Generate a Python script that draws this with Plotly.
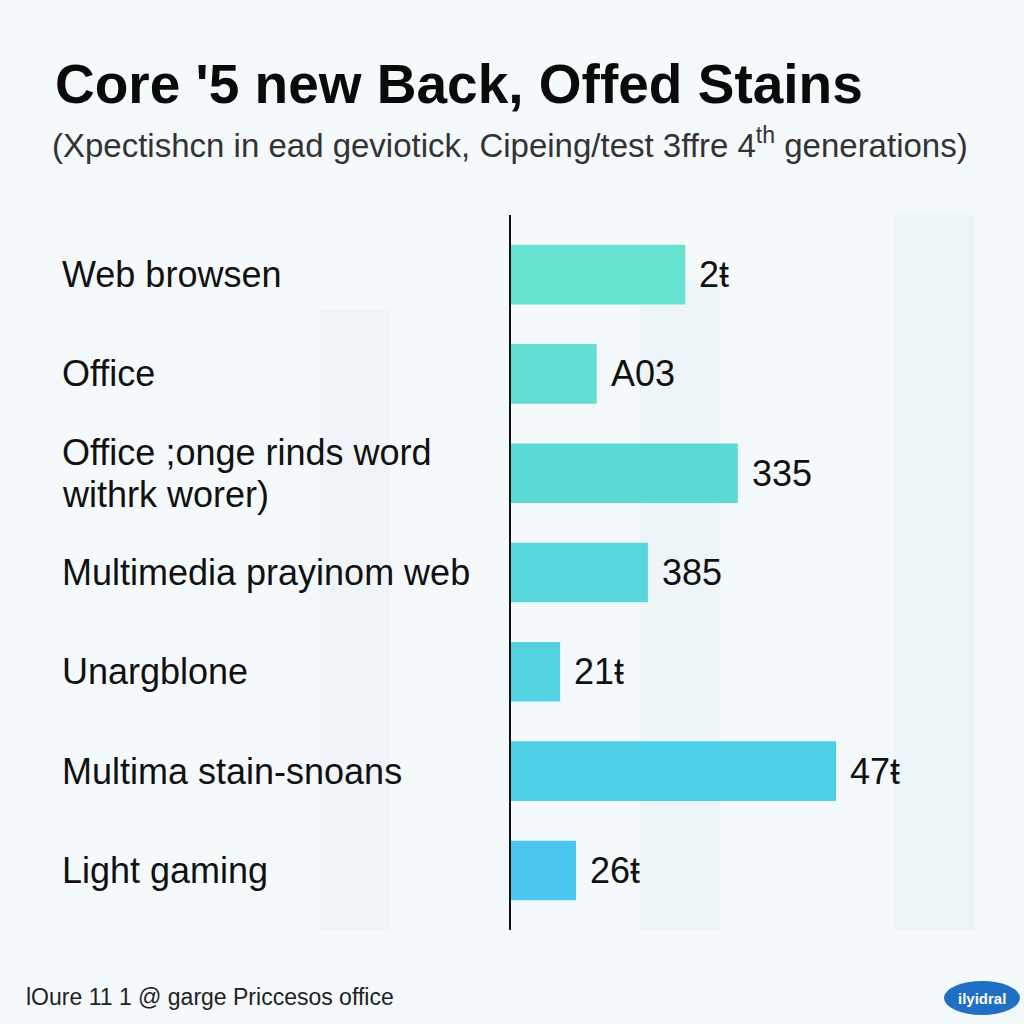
import plotly.graph_objects as go

categories = [
    "Web browsen",
    "Office",
    "Office ;onge rinds word<br>withrk worer)",
    "Multimedia prayinom web",
    "Unargblone",
    "Multima stain-snoans",
    "Light gaming",
]
values = [25.2, 12.4, 32.8, 19.8, 7.1, 47.0, 9.4]
value_labels = ["2ŧ", "A03", "335", "385", "21ŧ", "47ŧ", "26ŧ"]
bar_colors = ["#66E2D0", "#62DED3", "#5CDAD8", "#57D6DD", "#53D3E1", "#4ECFE8", "#4CC6EF"]

W = H = 1024
x_dom = [511 / W, 1000 / W]
y_dom = [(H - 930) / H, (H - 215) / H]
px_per_unit = 325 / 47.0
x_max = (1000 - 511) / px_per_unit

FONT = "Liberation Sans, Arial, sans-serif"

fig = go.Figure()
fig.add_trace(go.Bar(
    y=list(range(len(categories))),
    x=values,
    orientation="h",
    width=0.6,
    marker=dict(color=bar_colors, line=dict(width=0)),
    hoverinfo="skip",
))

annotations = []
for i, (c, v, lab) in enumerate(zip(categories, values, value_labels)):
    lines = c.split("<br>")
    n = len(lines)
    for k, line in enumerate(lines):
        offset = (k - (n - 1) / 2) * 0.42
        annotations.append(dict(
            x=60 / W, xref="paper", y=i + offset, yref="y", text=line, showarrow=False,
            xanchor="left", yanchor="middle", align="left",
            font=dict(family=FONT, size=36, color="#111111"),
        ))
    annotations.append(dict(
        x=v, xref="x", y=i, yref="y", text=lab, showarrow=False,
        xanchor="left", yanchor="middle", xshift=12,
        font=dict(family=FONT, size=36, color="#111111"),
    ))

annotations += [
    dict(x=53 / W, y=1 - 84 / H, xref="paper", yref="paper", xanchor="left", yanchor="middle",
         text="<b>Core '5 new Back, Offed Stains</b>", showarrow=False,
         font=dict(family=FONT, size=55, color="#0a0a0a")),
    dict(x=50 / W, y=1 - 143 / H, xref="paper", yref="paper", xanchor="left", yanchor="middle",
         text="(Xpectishcn in ead geviotick, Cipeing/test 3ffre 4<sup>th</sup> generations)", showarrow=False,
         font=dict(family=FONT, size=33, color="#333333")),
    dict(x=24 / W, y=1 - 997 / H, xref="paper", yref="paper", xanchor="left", yanchor="middle",
         text="lOure 11 1 @ garge Priccesos office", showarrow=False,
         font=dict(family=FONT, size=23, color="#222222")),
    dict(x=982 / W, y=1 - 998 / H, xref="paper", yref="paper", xanchor="center", yanchor="middle",
         text="<b>ilyidral</b>", showarrow=False,
         font=dict(family=FONT, size=15, color="#ffffff")),
]

shapes = [
    dict(type="circle", xref="paper", yref="paper",
         x0=944 / W, x1=1020 / W, y0=1 - 1015 / H, y1=1 - 981 / H,
         fillcolor="#1F6FC4", line=dict(width=0), layer="below"),
    # faint watermark blocks
    dict(type="rect", xref="paper", yref="paper", x0=320 / W, x1=390 / W, y0=1 - 930 / H, y1=1 - 310 / H,
         fillcolor="rgba(225,236,242,0.35)", line=dict(width=0), layer="below"),
    dict(type="rect", xref="paper", yref="paper", x0=640 / W, x1=720 / W, y0=1 - 930 / H, y1=1 - 280 / H,
         fillcolor="rgba(225,236,242,0.3)", line=dict(width=0), layer="below"),
    dict(type="rect", xref="paper", yref="paper", x0=895 / W, x1=975 / W, y0=1 - 930 / H, y1=1 - 215 / H,
         fillcolor="rgba(225,236,242,0.3)", line=dict(width=0), layer="below"),
]

fig.update_layout(
    width=W, height=H,
    margin=dict(l=0, r=0, t=0, b=0),
    paper_bgcolor="#F4F9FB",
    plot_bgcolor="rgba(0,0,0,0)",
    showlegend=False,
    bargap=0.4,
    xaxis=dict(domain=x_dom, range=[0, x_max], showgrid=False, zeroline=False,
               showticklabels=False, showline=False, fixedrange=True),
    yaxis=dict(domain=y_dom, range=[6.6, -0.6], showgrid=False, zeroline=False,
               showticklabels=False, showline=True, linecolor="#111111", linewidth=2,
               ticks="", fixedrange=True),
    annotations=annotations,
    shapes=shapes,
)

fig.write_html(
    "out.html",
    config={"displayModeBar": False},
    post_script="document.body.style.margin='0';document.body.style.background='#F4F9FB';",
)
